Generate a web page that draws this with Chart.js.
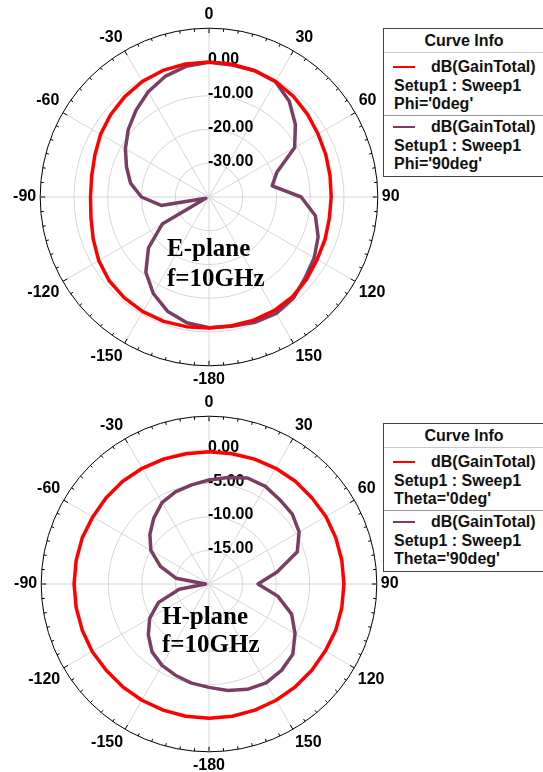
<!DOCTYPE html>
<html>
<head>
<meta charset="utf-8">
<title>E-plane / H-plane gain patterns</title>
<script src="https://cdn.jsdelivr.net/npm/chart.js@4.4.1/dist/chart.umd.min.js"></script>
<style>
  html, body { margin: 0; padding: 0; background: #fff; }
  body { width: 543px; height: 772px; position: relative; overflow: hidden; }
  canvas { position: absolute; left: 0; }
  .plane {
    position: absolute;
    font: bold 25px "Liberation Serif", "Times New Roman", serif;
    color: #000;
    white-space: nowrap;
  }
  .info {
    position: absolute;
    left: 383px;
    width: 162px;
    height: 149px;
    border: 1px solid #444;
    box-sizing: border-box;
    background: #fff;
  }
  .info .t {
    position: absolute;
    font: bold 16px "Liberation Sans", Arial, sans-serif;
    line-height: 18px;
    color: #111;
    white-space: nowrap;
  }
  .info .sep { position: absolute; left: 0; right: 0; height: 1px; }
  .info .sw { position: absolute; left: 9px; width: 22px; height: 2px; }
</style>
</head>
<body>
<canvas id="ePlane" width="543" height="390" style="top:0px"></canvas>
<canvas id="hPlane" width="543" height="382" style="top:393px"></canvas>
<div class="plane" style="left:167px; top:233px; line-height:30px">E-plane<br>f=10GHz</div>
<div class="plane" style="left:162px; top:602px; line-height:28px">H-plane<br>f=10GHz</div>
<div class="info" id="infoE" style="top:28px"></div>
<div class="info" id="infoH" style="top:423px"></div>

<script>
// angle categories, clockwise from top (degrees)
const angles = [0, 10, 20, 30, 40, 50, 60, 70, 80, 90, 100, 110, 120, 130, 140, 150, 160, 170,
  -180, -170, -160, -150, -140, -130, -120, -110, -100, -90, -80, -70, -60, -50, -40, -30, -20, -10];

// E-plane, dB(GainTotal)
const eGainPhi0 = [0.0, -0.1, -0.2, -0.5, -1.1, -1.9, -2.7, -3.2, -3.6, -3.8, -3.8, -3.4, -3.0, -2.2, -1.5, -1.2, -1.2, -1.3,
  -1.2, -1.0, -0.8, -0.8, -1.0, -1.4, -2.3, -3.5, -4.5, -4.9, -4.7, -4.0, -2.9, -2.0, -1.2, -0.5, -0.1, 0.0];
const eGainPhi90 = [-0.1, -0.3, -0.2, -0.6, -3.0, -6.6, -10.7, -18.6, -21.0, -12.7, -8.0, -5.6, -4.0, -2.8, -1.0, -0.2, -0.5, -1.1,
  -1.3, -2.2, -4.0, -7.0, -10.9, -16.6, -24.0, -39.0, -25.6, -20.0, -16.4, -14.0, -11.4, -8.8, -6.4, -4.0, -2.0, -0.7];

// H-plane, dB(GainTotal)
const hGainTheta0 = [-0.3, -0.3, -0.2, -0.1, 0.0, 0.0, 0.1, 0.1, 0.1, 0.1, 0.1, 0.1, 0.0, 0.0, 0.0, 0.0, 0.0, 0.0,
  0.0, 0.0, 0.0, 0.0, 0.0, 0.0, 0.1, 0.1, 0.1, 0.1, 0.1, 0.1, 0.0, 0.0, 0.0, -0.1, -0.2, -0.3];
const hGainTheta90 = [-4.5, -3.9, -3.2, -3.2, -3.6, -3.8, -4.5, -6.0, -9.7, -12.7, -9.6, -6.9, -5.2, -3.7, -3.2, -3.0, -3.3, -3.9,
  -4.6, -5.0, -5.5, -6.0, -6.8, -8.2, -9.8, -12.0, -15.5, -19.5, -15.0, -12.3, -10.0, -8.5, -7.2, -6.0, -5.4, -5.0];

// radial axes
const eRange = { min: -40, max: 10, step: 10 };
const hRange = { min: -20, max: 5, step: 5 };
const eTickLabels = [0, -10, -20, -30];
const hTickLabels = [0, -5, -10, -15];

const legendE = ["Phi='0deg'", "Phi='90deg'"];
const legendH = ["Theta='0deg'", "Theta='90deg'"];

const RED = '#ff0000';
const PURPLE = '#7a3e64';
const GRID = '#d6d6d6';

// outer ring ticks + radial value labels (drawn under the curves)
const polarDecor = {
  id: 'polarDecor',
  beforeDatasetsDraw(chart, args, opts) {
    const s = chart.scales.r;
    const ctx = chart.ctx;
    const R = s.drawingArea;
    ctx.save();
    ctx.strokeStyle = '#000';
    ctx.lineWidth = 1;
    for (let a = 0; a < 360; a += 5) {
      const len = a % 30 === 0 ? 5 : 3;
      const t = a * Math.PI / 180 - Math.PI / 2;
      ctx.beginPath();
      ctx.moveTo(s.xCenter + Math.cos(t) * R, s.yCenter + Math.sin(t) * R);
      ctx.lineTo(s.xCenter + Math.cos(t) * (R - len), s.yCenter + Math.sin(t) * (R - len));
      ctx.stroke();
    }
    ctx.font = 'bold 16px "Liberation Sans", Arial, sans-serif';
    ctx.fillStyle = '#000';
    ctx.textAlign = 'left';
    ctx.textBaseline = 'middle';
    opts.labels.forEach(v => {
      const y = s.yCenter - s.getDistanceFromCenterForValue(v) - 2;
      ctx.fillText(v.toFixed(2), s.xCenter - 1, y);
    });
    ctx.restore();
  }
};

function makePolar(canvasId, series, range, tickLabels, padding) {
  const lastTick = Math.round((range.max - range.min) / range.step);
  return new Chart(document.getElementById(canvasId), {
    type: 'radar',
    data: {
      labels: angles.map(String),
      datasets: [
        { data: series[0], borderColor: RED, borderWidth: 3.5 },
        { data: series[1], borderColor: PURPLE, borderWidth: 3.5 }
      ]
    },
    options: {
      responsive: false,
      animation: false,
      layout: { padding },
      elements: {
        point: { radius: 0, hoverRadius: 0 },
        line: { tension: 0, fill: false, borderJoinStyle: 'round' }
      },
      plugins: {
        legend: { display: false },
        tooltip: { enabled: false },
        polarDecor: { labels: tickLabels }
      },
      scales: {
        r: {
          min: range.min,
          max: range.max,
          ticks: { display: false, stepSize: range.step },
          grid: {
            circular: true,
            color: c => (c.index === lastTick ? '#000' : GRID),
            lineWidth: 1
          },
          angleLines: {
            color: c => (angles[c.index] % 30 === 0 ? GRID : 'rgba(0,0,0,0)'),
            lineWidth: 1
          },
          pointLabels: {
            display: true,
            padding: 4,
            color: '#000',
            font: { family: '"Liberation Sans", Arial, sans-serif', size: 16, weight: 'bold' },
            callback: lbl => (Number(lbl) % 30 === 0 ? lbl : '')
          }
        }
      }
    },
    plugins: [polarDecor]
  });
}

makePolar('ePlane', [eGainPhi0, eGainPhi90], eRange, eTickLabels, { left: 0, right: 129, top: 5, bottom: 1 });
makePolar('hPlane', [hGainTheta0, hGainTheta90], hRange, hTickLabels, { left: 0, right: 129, top: 0, bottom: 0 });

// "Curve Info" boxes
function buildInfo(id, names) {
  const box = document.getElementById(id);
  const add = (cls, style, text) => {
    const d = document.createElement('div');
    d.className = cls;
    d.style.cssText = style;
    if (text) d.textContent = text;
    box.appendChild(d);
  };
  add('t', 'left:0; right:0; text-align:center; top:3px', 'Curve Info');
  add('sep', 'top:23px; background:#c8c8c8');
  [RED, PURPLE].forEach((col, i) => {
    const y = 38 + i * 60;
    add('sw', 'top:' + (y - 1) + 'px; background:' + col);
    add('t', 'left:47px; top:' + (y - 9) + 'px', 'dB(GainTotal)');
    add('t', 'left:10px; top:' + (y + 10) + 'px', 'Setup1 : Sweep1');
    add('t', 'left:10px; top:' + (y + 28) + 'px', names[i]);
  });
  add('sep', 'top:86px; background:#999');
}
buildInfo('infoE', legendE);
buildInfo('infoH', legendH);
</script>
</body>
</html>
